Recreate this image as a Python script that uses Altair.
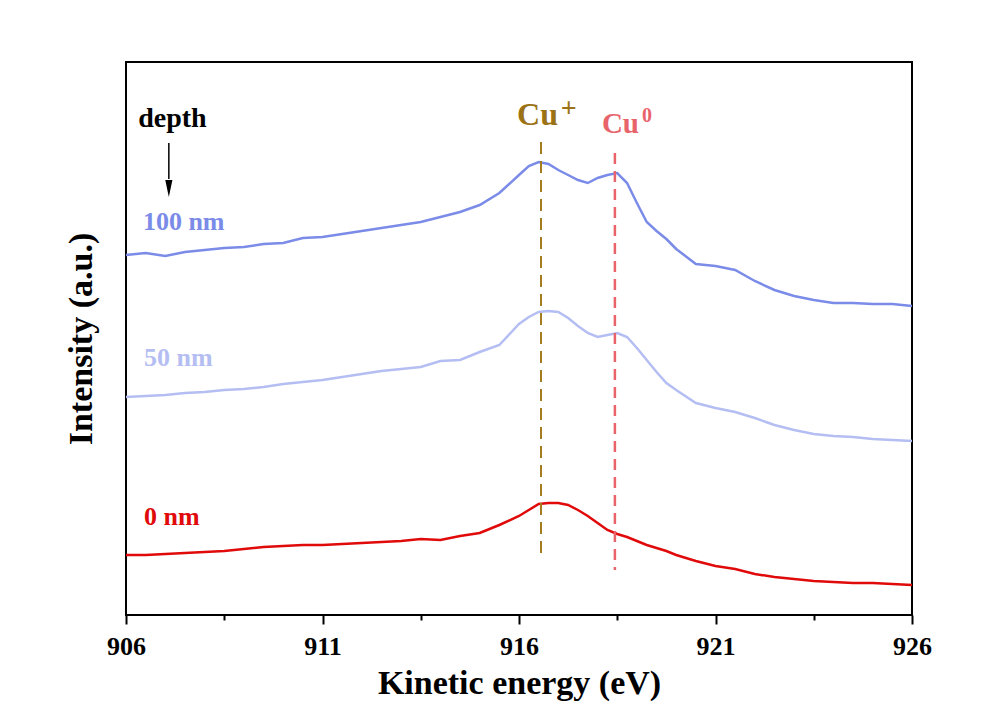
import altair as alt
import pandas as pd

# ---- data ----
energy = [906, 906.5, 907, 907.5, 908, 908.5, 909, 909.5, 910, 910.5,
          911, 911.5, 912, 912.5, 913, 913.5, 914, 914.5, 915, 915.5,
          916, 916.25, 916.5, 916.75, 917, 917.25, 917.5, 917.75, 918, 918.25,
          918.5, 918.75, 919, 919.25, 919.5, 919.75, 920,
          920.5, 921, 921.5, 922, 922.5, 923, 923.5, 924, 924.5, 925, 925.5, 926]

int_100nm = [360, 362, 359, 363, 365, 367, 368, 371, 372, 377,
             378, 381, 384, 387, 390, 393, 398, 403, 410, 422,
             440, 449, 453, 451, 445, 440, 435, 432, 437, 440,
             442, 432, 412, 393, 384, 376, 366,
             351, 349, 345, 334, 325, 319, 315, 312, 312, 311, 311, 309]

int_50nm = [218, 219, 220, 222, 223, 225, 226, 228, 231, 233,
            235, 238, 241, 244, 246, 248, 254, 255, 263, 270,
            291, 298, 303, 304, 303, 297, 289, 282, 278, 280,
            282, 278, 267, 255, 243, 232, 225,
            212, 207, 203, 197, 190, 185, 181, 179, 178, 176, 175, 174]

int_0nm = [60, 60, 61, 62, 63, 64, 66, 68, 69, 70,
           70, 71, 72, 73, 74, 76, 75, 79, 82, 90,
           99, 105, 111, 112, 112, 110, 105, 99, 92, 85,
           81, 78, 74, 70, 67, 64, 60,
           54, 49, 46, 41, 38, 36, 34, 33, 32, 32, 31, 30]

series_names = ["100 nm", "50 nm", "0 nm"]
series_colors = ["#7b8be8", "#b5bef2", "#e00a0a"]

x_major = [906, 911, 916, 921, 926]
x_minor = [908.5, 913.5, 918.5, 923.5]

peak_names = ["Cu+", "Cu0"]
peak_pos = [916.56, 918.44]
peak_top = [473, 462]
peak_bottom = [57, 45]
peak_colors = ["#a57d1e", "#e8646a"]

ann_text = ["depth", "100 nm", "50 nm", "0 nm", "Cu", "+", "Cu", "0"]
ann_x = [906.31, 906.43, 906.46, 906.46, 915.95, 917.06, 918.11, 919.13]
ann_y = [488, 385, 249, 90, 490, 498, 482, 493]
ann_size = [28, 26, 26, 26, 32, 28, 29, 20]
ann_color = ["#000000", "#7b8be8", "#b5bef2", "#e00a0a",
             "#9b7316", "#9b7316", "#e8646a", "#e8646a"]

arrow_x = [907.09]
arrow_top = [472]
arrow_bottom = [436]
arrow_head_y = [426.5]

# ---- tables ----
rows = []
for name, vals in zip(series_names, [int_100nm, int_50nm, int_0nm]):
    for e, v in zip(energy, vals):
        rows.append({"energy": e, "intensity": v, "series": name})
df = pd.DataFrame(rows)

df_ann = pd.DataFrame({"text": ann_text, "x": ann_x, "y": ann_y,
                       "size": ann_size, "color": ann_color})
df_peak = pd.DataFrame({"name": peak_names, "x": peak_pos, "y": peak_top,
                        "y2": peak_bottom, "color": peak_colors})
df_arrow = pd.DataFrame({"x": arrow_x, "y": arrow_top, "y2": arrow_bottom,
                         "yh": arrow_head_y})
df_minor = pd.DataFrame({"energy": x_minor})

FONT = "Liberation Serif"
xscale = alt.Scale(domain=[906, 926], nice=False, zero=False)
yscale = alt.Scale(domain=[0, 553], nice=False, zero=False)

yaxis = alt.Axis(title="Intensity (a.u.)", labels=False, ticks=False, domain=False,
                 grid=False, titleFont=FONT, titleFontSize=34, titleFontWeight="bold",
                 titleColor="black", titlePadding=28)

major_axis = alt.Axis(values=x_major, format="d", orient="bottom", grid=False,
                      domain=False, tickSize=9, tickWidth=2, tickColor="black",
                      labelFont=FONT, labelFontSize=26, labelFontWeight="bold",
                      labelColor="black", labelPadding=9, labelFlush=False,
                      title="Kinetic energy (eV)", titleFont=FONT, titleFontSize=34,
                      titleFontWeight="bold", titleColor="black", titlePadding=7)
minor_axis = alt.Axis(values=x_minor, orient="bottom", grid=False, domain=False,
                      labels=False, tickSize=5, tickWidth=2, tickColor="black",
                      title=None)

lines = alt.Chart(df).mark_line(strokeWidth=2.5).encode(
    x=alt.X("energy:Q", scale=xscale, axis=major_axis),
    y=alt.Y("intensity:Q", scale=yscale, axis=yaxis),
    color=alt.Color("series:N", scale=alt.Scale(domain=series_names, range=series_colors),
                    legend=None),
    detail="series:N",
)

minor = alt.Chart(df_minor).mark_point(opacity=0).encode(
    x=alt.X("energy:Q", scale=xscale, axis=minor_axis),
)

cu_plus = alt.Chart(df_peak[df_peak["name"] == "Cu+"]).mark_rule(
    strokeWidth=2, strokeDash=[12, 7], color=peak_colors[0]).encode(
    x=alt.X("x:Q", scale=xscale, axis=None),
    y=alt.Y("y:Q", scale=yscale, axis=yaxis),
    y2="y2:Q",
)
cu_zero = alt.Chart(df_peak[df_peak["name"] == "Cu0"]).mark_rule(
    strokeWidth=2.5, strokeDash=[11, 7], color=peak_colors[1]).encode(
    x=alt.X("x:Q", scale=xscale, axis=None),
    y=alt.Y("y:Q", scale=yscale, axis=yaxis),
    y2="y2:Q",
)

arrow_line = alt.Chart(df_arrow).mark_rule(strokeWidth=1.5, color="black").encode(
    x=alt.X("x:Q", scale=xscale, axis=None),
    y=alt.Y("y:Q", scale=yscale, axis=yaxis),
    y2="y2:Q",
)
arrow_head = alt.Chart(df_arrow).mark_point(
    shape="M -0.42 -1 L 0.42 -1 L 0 1 Z", size=289, filled=True,
    color="black", opacity=1).encode(
    x=alt.X("x:Q", scale=xscale, axis=None),
    y=alt.Y("yh:Q", scale=yscale, axis=yaxis),
)

texts = alt.Chart(df_ann).mark_text(
    font=FONT, fontWeight="bold", align="left", baseline="alphabetic").encode(
    x=alt.X("x:Q", scale=xscale, axis=None),
    y=alt.Y("y:Q", scale=yscale, axis=yaxis),
    text="text:N",
    size=alt.Size("size:Q", scale=None, legend=None),
    color=alt.Color("color:N", scale=None, legend=None),
)

chart = alt.layer(lines, minor, cu_plus, cu_zero, arrow_line, arrow_head, texts).resolve_axis(
    x="independent"
).properties(
    width=786, height=553,
    padding={"left": 118, "top": 54, "right": 60, "bottom": 89},
    autosize=alt.AutoSizeParams(type="none"),
    background="white",
).configure_view(stroke="black", strokeWidth=2)

chart.save("out.html", embed_options={"renderer": "svg", "actions": False})
